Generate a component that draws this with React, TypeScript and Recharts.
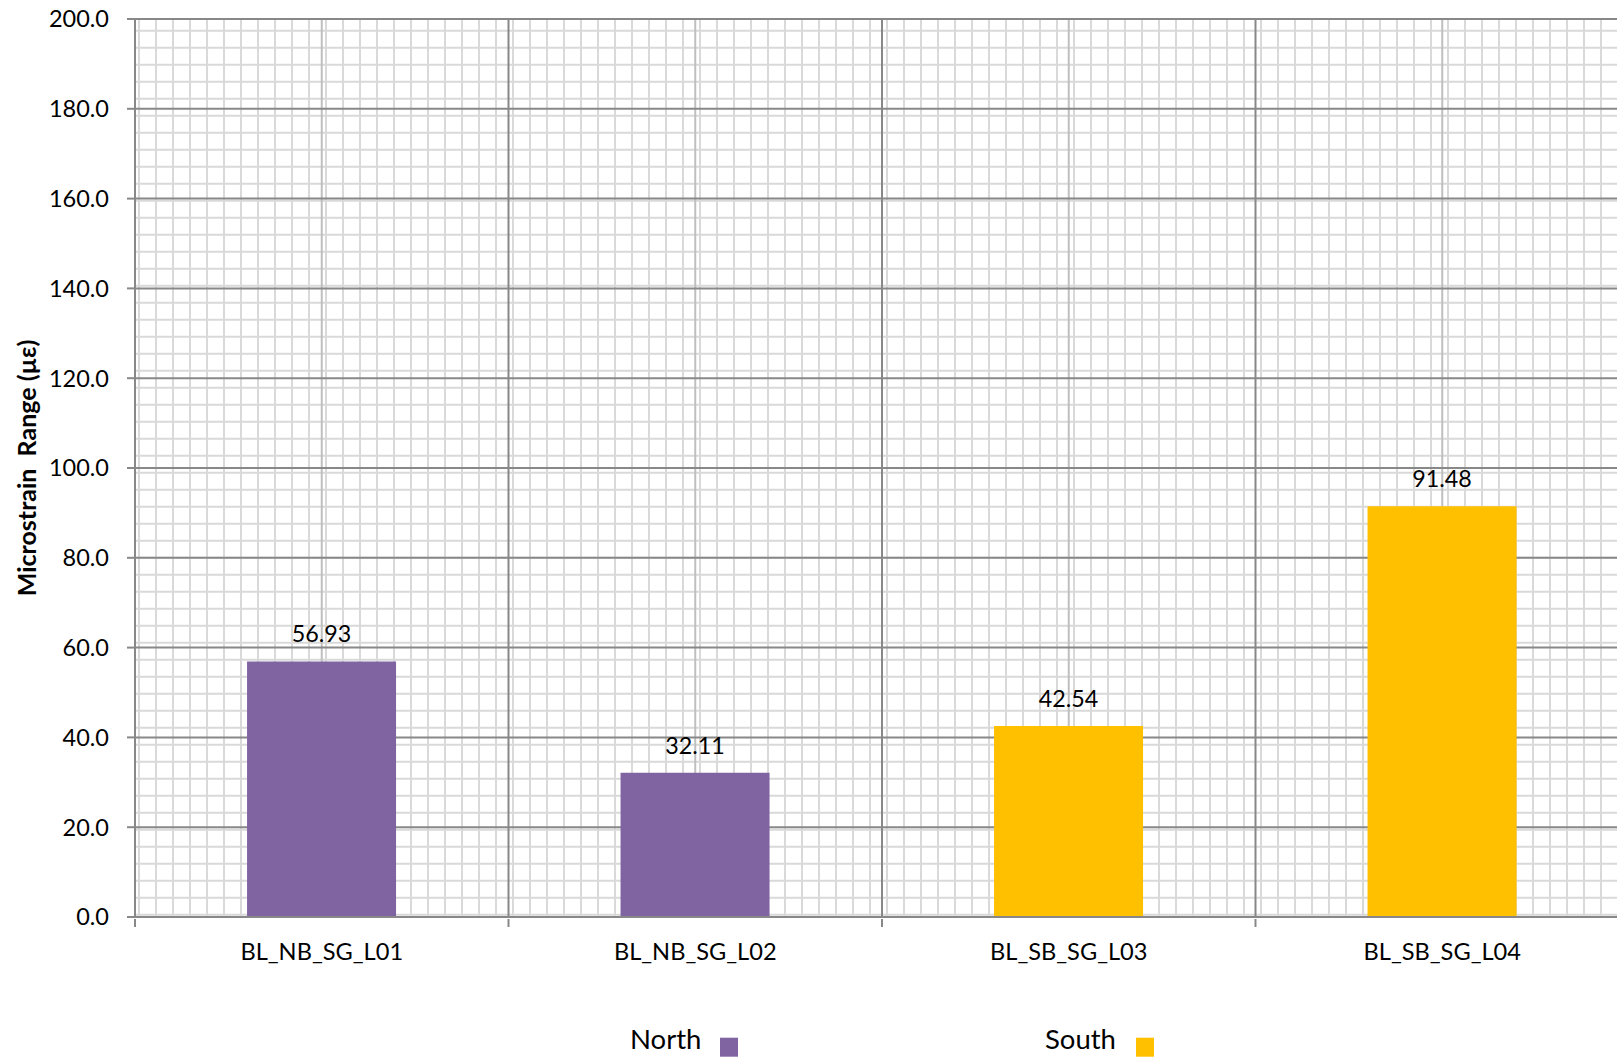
import React from 'react';
import { BarChart, Bar, XAxis, YAxis, CartesianGrid, Cell, LabelList, Legend } from 'recharts';

const CATEGORIES = ['BL_NB_SG_L01', 'BL_NB_SG_L02', 'BL_SB_SG_L03', 'BL_SB_SG_L04'];
const VALUES = [56.93, 32.11, 42.54, 91.48];
const GROUPS = ['North', 'North', 'South', 'South'];
const LEGEND_NAMES = ['North', 'South'];
const LEGEND_COLORS = ['#8064A2', '#FFC000'];
const Y_TICKS = [0, 20, 40, 60, 80, 100, 120, 140, 160, 180, 200];
const Y_TITLE = 'Microstrain  Range (µε)';

const data = CATEGORIES.map((name, i) => ({ name, value: VALUES[i], group: GROUPS[i] }));
const colorOf = (g: string) => LEGEND_COLORS[LEGEND_NAMES.indexOf(g)];

const FONT = 'Lato, "Open Sans", sans-serif';
const W = 1640;
const H = 1059;
const MAJOR = '#888888';
const MID = '#bfbfbf';
const MINOR = '#d9d9d9';
const MINOR_STEP = 17;

const minorV = ({ offset }: any) => {
  const pts: number[] = [];
  for (let x = offset.left + 4; x < offset.left + offset.width; x += MINOR_STEP) pts.push(x);
  return pts;
};
const minorH = ({ offset }: any) => {
  const pts: number[] = [];
  for (let y = offset.top + 11.7; y < offset.top + offset.height; y += MINOR_STEP) pts.push(y);
  return pts;
};
const bounds = ({ offset }: any) => {
  const n = CATEGORIES.length;
  const pts: number[] = [];
  for (let i = 0; i <= n; i++) pts.push(offset.left + (i * offset.width) / n);
  return pts;
};

function XTick(props: any) {
  const { x, y, payload, index, visibleTicksCount } = props;
  const half = payload && typeof payload.offset === 'number' && payload.offset > 0 ? payload.offset : 186.75;
  return (
    <g>
      <line x1={x - half} x2={x - half} y1={y} y2={y + 8} stroke={MAJOR} strokeWidth={2} />
      {index === visibleTicksCount - 1 && (
        <line x1={x + half} x2={x + half} y1={y} y2={y + 8} stroke={MAJOR} strokeWidth={2} />
      )}
      <text x={x} y={y + 41} textAnchor="middle" fontFamily={FONT} fontSize={23.6} fill="#000">
        {payload.value}
      </text>
    </g>
  );
}

function YTitle(props: any) {
  const vb = props.viewBox || { x: 0, y: 19, width: 135, height: 898 };
  const cx = vb.x + 26;
  const cy = vb.y + vb.height / 2;
  return (
    <text
      x={cx}
      y={cy}
      transform={`rotate(-90, ${cx}, ${cy})`}
      textAnchor="middle"
      dominantBaseline="central"
      fontFamily={FONT}
      fontWeight="bold"
      fontSize={25}
      fill="#000"
      style={{ whiteSpace: 'pre' }}
    >
      {Y_TITLE}
    </text>
  );
}

function ValueLabel(props: any) {
  const { x, y, width, value } = props;
  if (value === null || value === undefined) return null;
  return (
    <text x={Number(x) + Number(width) / 2} y={Number(y) - 19} textAnchor="middle" fontFamily={FONT} fontSize={23.3} fill="#000">
      {Number(value).toFixed(2)}
    </text>
  );
}

const LEGEND_TEXT_X = [630, 1045];
const LEGEND_BOX_X = [720, 1136];

function LegendContent() {
  return (
    <svg width={W} height={59} style={{ display: 'block' }}>
      {LEGEND_NAMES.map((n, i) => (
        <g key={n}>
          <text x={LEGEND_TEXT_X[i]} y={49} fontFamily={FONT} fontSize={27.5} fill="#000">
            {n}
          </text>
          <rect x={LEGEND_BOX_X[i]} y={37.7} width={18} height={19} fill={LEGEND_COLORS[i]} />
        </g>
      ))}
    </svg>
  );
}

export default function App() {
  return (
    <div style={{ position: 'fixed', left: 0, top: 0, width: 1617, height: 1059, overflow: 'hidden', background: '#fff' }}>
      <BarChart
        width={W}
        height={H}
        data={data}
        margin={{ top: 19, right: 11, left: 0, bottom: 0 }}
        barCategoryGap="30%"
      >
        <CartesianGrid
          verticalCoordinatesGenerator={minorV}
          horizontalCoordinatesGenerator={minorH}
          stroke={MINOR}
          strokeWidth={2}
        />
        <CartesianGrid horizontal={false} stroke={MID} strokeWidth={2} />
        <CartesianGrid verticalCoordinatesGenerator={bounds} stroke={MAJOR} strokeWidth={2} />
        <XAxis
          dataKey="name"
          height={83}
          interval={0}
          tickSize={0}
          tickLine={false}
          axisLine={{ stroke: MAJOR, strokeWidth: 2 }}
          tick={<XTick />}
        />
        <YAxis
          domain={[0, 200]}
          ticks={Y_TICKS}
          interval={0}
          width={135}
          tickSize={8}
          tickMargin={18}
          tickFormatter={(v: number) => v.toFixed(1)}
          tick={{ fontFamily: FONT, fontSize: 23.5, fill: '#000' }}
          tickLine={{ stroke: MAJOR, strokeWidth: 2 }}
          axisLine={{ stroke: MAJOR, strokeWidth: 2 }}
          label={{ content: <YTitle /> }}
        />
        <Legend
          verticalAlign="bottom"
          height={59}
          wrapperStyle={{ left: 0, bottom: 0, width: W, height: 59 }}
          content={<LegendContent />}
        />
        <Bar dataKey="value" isAnimationActive={false}>
          {data.map((d) => (
            <Cell key={d.name} fill={colorOf(d.group)} />
          ))}
          <LabelList dataKey="value" content={<ValueLabel />} />
        </Bar>
      </BarChart>
    </div>
  );
}
